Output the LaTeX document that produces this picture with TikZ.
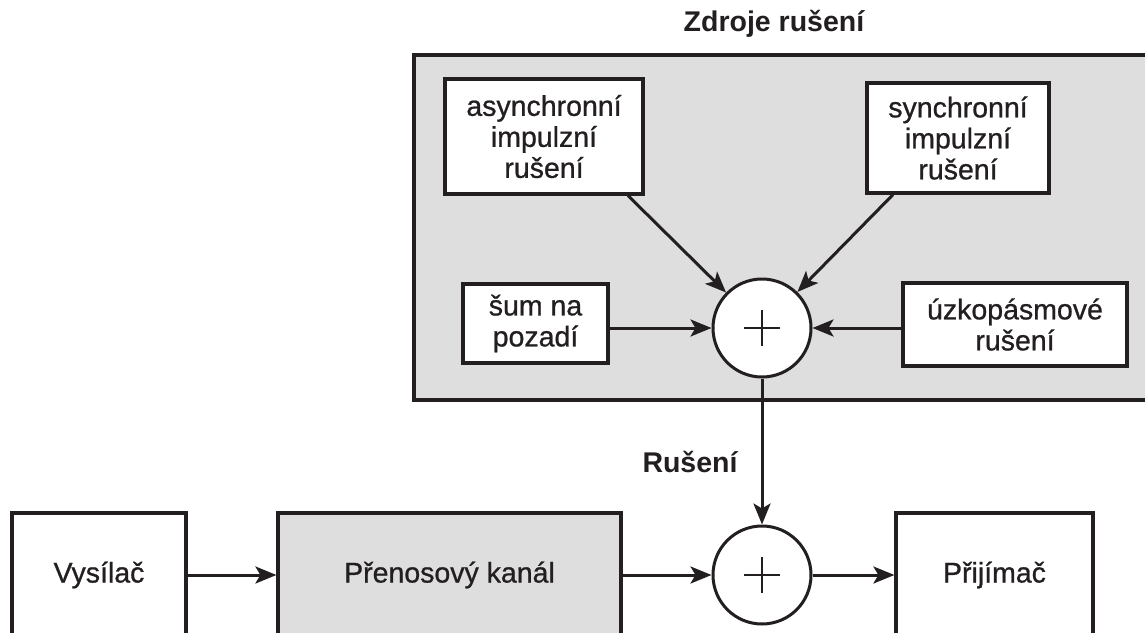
\documentclass[tikz,border=0pt]{standalone}
\usepackage{fontspec}
\setmainfont{Liberation Sans}
\newfontfamily\heavysans{Liberation Sans}[FakeBold=0.8]
\usetikzlibrary{arrows.meta}
\definecolor{panel}{RGB}{222,222,222}
\definecolor{ink}{RGB}{35,31,32}
\begin{document}
\begin{tikzpicture}[x=1pt,y=-1pt,
  txt/.style={font=\heavysans\fontsize{28.5}{31}\selectfont, text=ink},
  box/.style={txt, draw=ink, line width=3.2pt, fill=white, align=center, inner sep=0pt},
  sumnode/.style={circle, draw=ink, line width=3pt, fill=white, minimum size=98pt, inner sep=0pt},
  arr/.style={draw=ink, line width=3pt, -{Stealth[length=21pt,width=17pt,inset=5pt]}},
  plusline/.style={draw=ink, line width=2.4pt},
  heading/.style={font=\fontsize{28.5}{31}\selectfont\bfseries, text=ink}
]
\useasboundingbox (0,0) rectangle (1145,632);
\clip (0,0) rectangle (1145,632);

% panel of noise sources
\node[draw=ink, line width=3.2pt, fill=panel, minimum width=736pt, minimum height=345pt, inner sep=0pt] (zdroje) at (782,227.5) {};
\node[heading] (title) at (774,24) {Zdroje rušení};

% noise source boxes
\node[box, minimum width=198pt, minimum height=115pt] (async) at (544,136.5) {asynchronní\\impulzní\\rušení};
\node[box, minimum width=182pt, minimum height=110pt] (sync) at (958,138) {synchronní\\impulzní\\rušení};
\node[box, minimum width=145pt, minimum height=79pt] (sum) at (535.5,323.5) {šum na\\pozadí};
\node[box, minimum width=224pt, minimum height=83pt] (uzk) at (1015,324.5) {úzkopásmové\\rušení};

% upper summing node
\node[sumnode] (c1) at (762,328) {};
\draw[plusline] ([xshift=-18pt]c1.center) -- ([xshift=18pt]c1.center);
\draw[plusline] ([yshift=-18pt]c1.center) -- ([yshift=18pt]c1.center);

\draw[arr] ([xshift=84pt]async.south) -- (c1);
\draw[arr] ([xshift=-65pt]sync.south) -- (c1);
\draw[arr] (sum.east |- c1.west) -- (c1.west);
\draw[arr] (uzk.west |- c1.east) -- (c1.east);

% lower chain
\node[box, minimum width=174pt, minimum height=124pt] (vys) at (99,575) {Vysílač};
\node[box, fill=panel, minimum width=343pt, minimum height=124pt] (pren) at (449.5,575) {Přenosový kanál};
\node[sumnode] (c2) at (762,575) {};
\draw[plusline] ([xshift=-18pt]c2.center) -- ([xshift=18pt]c2.center);
\draw[plusline] ([yshift=-18pt]c2.center) -- ([yshift=18pt]c2.center);
\node[box, minimum width=197pt, minimum height=124pt] (prij) at (994.5,575) {Přijímač};

\draw[arr] (c1.south) -- (c2.north);
\node[heading] (rus) at (690,462) {Rušení};

\draw[arr] (vys.east) -- (pren.west);
\draw[arr] (pren.east) -- (c2.west);
\draw[arr] (c2.east) -- (prij.west);
\end{tikzpicture}
\end{document}
